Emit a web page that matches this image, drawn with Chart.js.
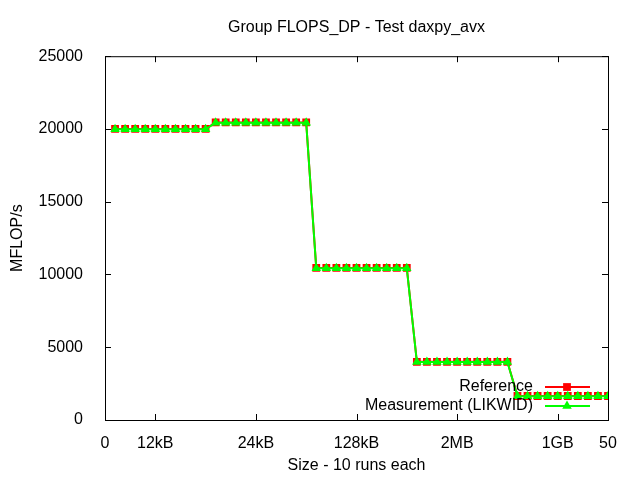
<!DOCTYPE html>
<html>
<head>
<meta charset="utf-8">
<script src="https://cdn.jsdelivr.net/npm/chart.js@4/dist/chart.umd.min.js"></script>
<style>
  html, body { margin: 0; padding: 0; background: #fff; }
  #wrap { width: 640px; height: 480px; }
</style>
</head>
<body>
<div id="wrap"><canvas id="flopsChart" width="640" height="480"></canvas></div>
<script>
// run index (10 runs for each size)
const runs = [1, 2, 3, 4, 5, 6, 7, 8, 9, 10,
  11, 12, 13, 14, 15, 16, 17, 18, 19, 20,
  21, 22, 23, 24, 25, 26, 27, 28, 29, 30,
  31, 32, 33, 34, 35, 36, 37, 38, 39, 40,
  41, 42, 43, 44, 45, 46, 47, 48, 49, 50];

const referenceValues = [20000, 20000, 20000, 20000, 20000, 20000, 20000, 20000, 20000, 20000,
  20450, 20450, 20450, 20450, 20450, 20450, 20450, 20450, 20450, 20450,
  10450, 10450, 10450, 10450, 10450, 10450, 10450, 10450, 10450, 10450,
  4000, 4000, 4000, 4000, 4000, 4000, 4000, 4000, 4000, 4000,
  1650, 1650, 1650, 1650, 1650, 1650, 1650, 1650, 1650, 1650];

const measuredValues = [19980, 19980, 19980, 19980, 19980, 19980, 19980, 19980, 19980, 19980,
  20430, 20430, 20430, 20430, 20430, 20430, 20430, 20430, 20430, 20430,
  10430, 10430, 10430, 10430, 10430, 10430, 10430, 10430, 10430, 10430,
  3980, 3980, 3980, 3980, 3980, 3980, 3980, 3980, 3980, 3980,
  1630, 1630, 1630, 1630, 1630, 1630, 1630, 1630, 1630, 1630];

// x tick positions and their labels
const xTickValues = [0, 5, 15, 25, 35, 45, 50];
const xTickLabels = ['0', '12kB', '24kB', '128kB', '2MB', '1GB', '50'];
const yTickValues = [0, 5000, 10000, 15000, 20000, 25000];

const FONT = "'Liberation Sans', Arial, sans-serif";
const FONT_SIZE = 16;

// gnuplot style: full border box, ticks pointing inwards on all sides, legend in the box
const gnuplotFrame = {
  id: 'gnuplotFrame',
  afterDraw(chart) {
    const { ctx, chartArea: a, scales } = chart;
    ctx.save();
    ctx.strokeStyle = '#000';
    ctx.lineWidth = 1;
    ctx.strokeRect(a.left + 0.5, a.top + 0.5, a.right - a.left, a.bottom - a.top);
    ctx.beginPath();
    xTickValues.forEach(v => {
      const x = Math.round(scales.x.getPixelForValue(v)) + 0.5;
      ctx.moveTo(x, a.bottom); ctx.lineTo(x, a.bottom - 6);
      ctx.moveTo(x, a.top); ctx.lineTo(x, a.top + 6);
    });
    yTickValues.forEach(v => {
      const y = Math.round(scales.y.getPixelForValue(v)) + 0.5;
      ctx.moveTo(a.left, y); ctx.lineTo(a.left + 6, y);
      ctx.moveTo(a.right, y); ctx.lineTo(a.right - 6, y);
    });
    ctx.stroke();

    // legend
    ctx.font = FONT_SIZE + 'px ' + FONT;
    ctx.textAlign = 'right';
    ctx.textBaseline = 'middle';
    chart.data.datasets.forEach((ds, i) => {
      const y = 387 + i * 19;
      ctx.fillStyle = '#000';
      ctx.fillText(ds.label, 533, y);
      ctx.strokeStyle = ds.borderColor;
      ctx.lineWidth = 2;
      ctx.beginPath();
      ctx.moveTo(545, y); ctx.lineTo(590, y);
      ctx.stroke();
      ctx.fillStyle = ds.pointBackgroundColor;
      Chart.helpers.drawPoint(ctx, {
        pointStyle: ds.pointStyle, radius: ds.pointRadius, borderWidth: 0
      }, 567, y);
    });
    ctx.restore();
  }
};

const ctx = document.getElementById('flopsChart').getContext('2d');

new Chart(ctx, {
  type: 'line',
  data: {
    datasets: [{
      label: 'Reference',
      data: runs.map((r, i) => ({ x: r, y: referenceValues[i] })),
      order: 1,
      borderColor: '#ff0000',
      backgroundColor: '#ff0000',
      pointBackgroundColor: '#ff0000',
      pointBorderWidth: 0,
      pointStyle: 'rect',
      pointRadius: 5.5,
      borderWidth: 2,
      tension: 0
    }, {
      label: 'Measurement (LIKWID)',
      data: runs.map((r, i) => ({ x: r, y: measuredValues[i] })),
      order: 0,
      borderColor: '#00ff00',
      backgroundColor: '#00ff00',
      pointBackgroundColor: '#00ff00',
      pointBorderWidth: 0,
      pointStyle: 'triangle',
      pointRadius: 5.5,
      borderWidth: 2,
      tension: 0
    }]
  },
  options: {
    responsive: false,
    animation: false,
    events: [],
    layout: { padding: { top: 0, right: 32, left: 0, bottom: 0 } },
    plugins: {
      legend: { display: false },
      tooltip: { enabled: false },
      title: {
        display: true,
        fullSize: false,
        text: 'Group FLOPS_DP - Test daxpy_avx',
        color: '#000',
        font: { family: FONT, size: FONT_SIZE, weight: 'normal' },
        padding: { top: 18, bottom: 19 }
      }
    },
    scales: {
      x: {
        type: 'linear',
        min: 0,
        max: 50,
        afterBuildTicks: scale => { scale.ticks = xTickValues.map(v => ({ value: v })); },
        afterFit: scale => { scale.height = 60; },
        ticks: {
          color: '#000',
          font: { family: FONT, size: FONT_SIZE },
          padding: 6,
          maxRotation: 0,
          autoSkip: false,
          callback: v => xTickLabels[xTickValues.indexOf(v)]
        },
        grid: { display: false },
        border: { display: false },
        title: {
          display: true,
          text: 'Size - 10 runs each',
          color: '#000',
          font: { family: FONT, size: FONT_SIZE },
          padding: { top: 0, bottom: 5 }
        }
      },
      y: {
        min: 0,
        max: 25000,
        afterBuildTicks: scale => { scale.ticks = yTickValues.map(v => ({ value: v })); },
        afterFit: scale => { scale.width = 105; },
        ticks: {
          color: '#000',
          font: { family: FONT, size: FONT_SIZE },
          padding: 14,
          callback: v => String(v)
        },
        grid: { display: false },
        border: { display: false },
        title: {
          display: true,
          text: 'MFLOP/s',
          color: '#000',
          font: { family: FONT, size: FONT_SIZE },
          padding: { top: 8, bottom: 0 }
        }
      }
    }
  },
  plugins: [gnuplotFrame]
});
</script>
</body>
</html>
